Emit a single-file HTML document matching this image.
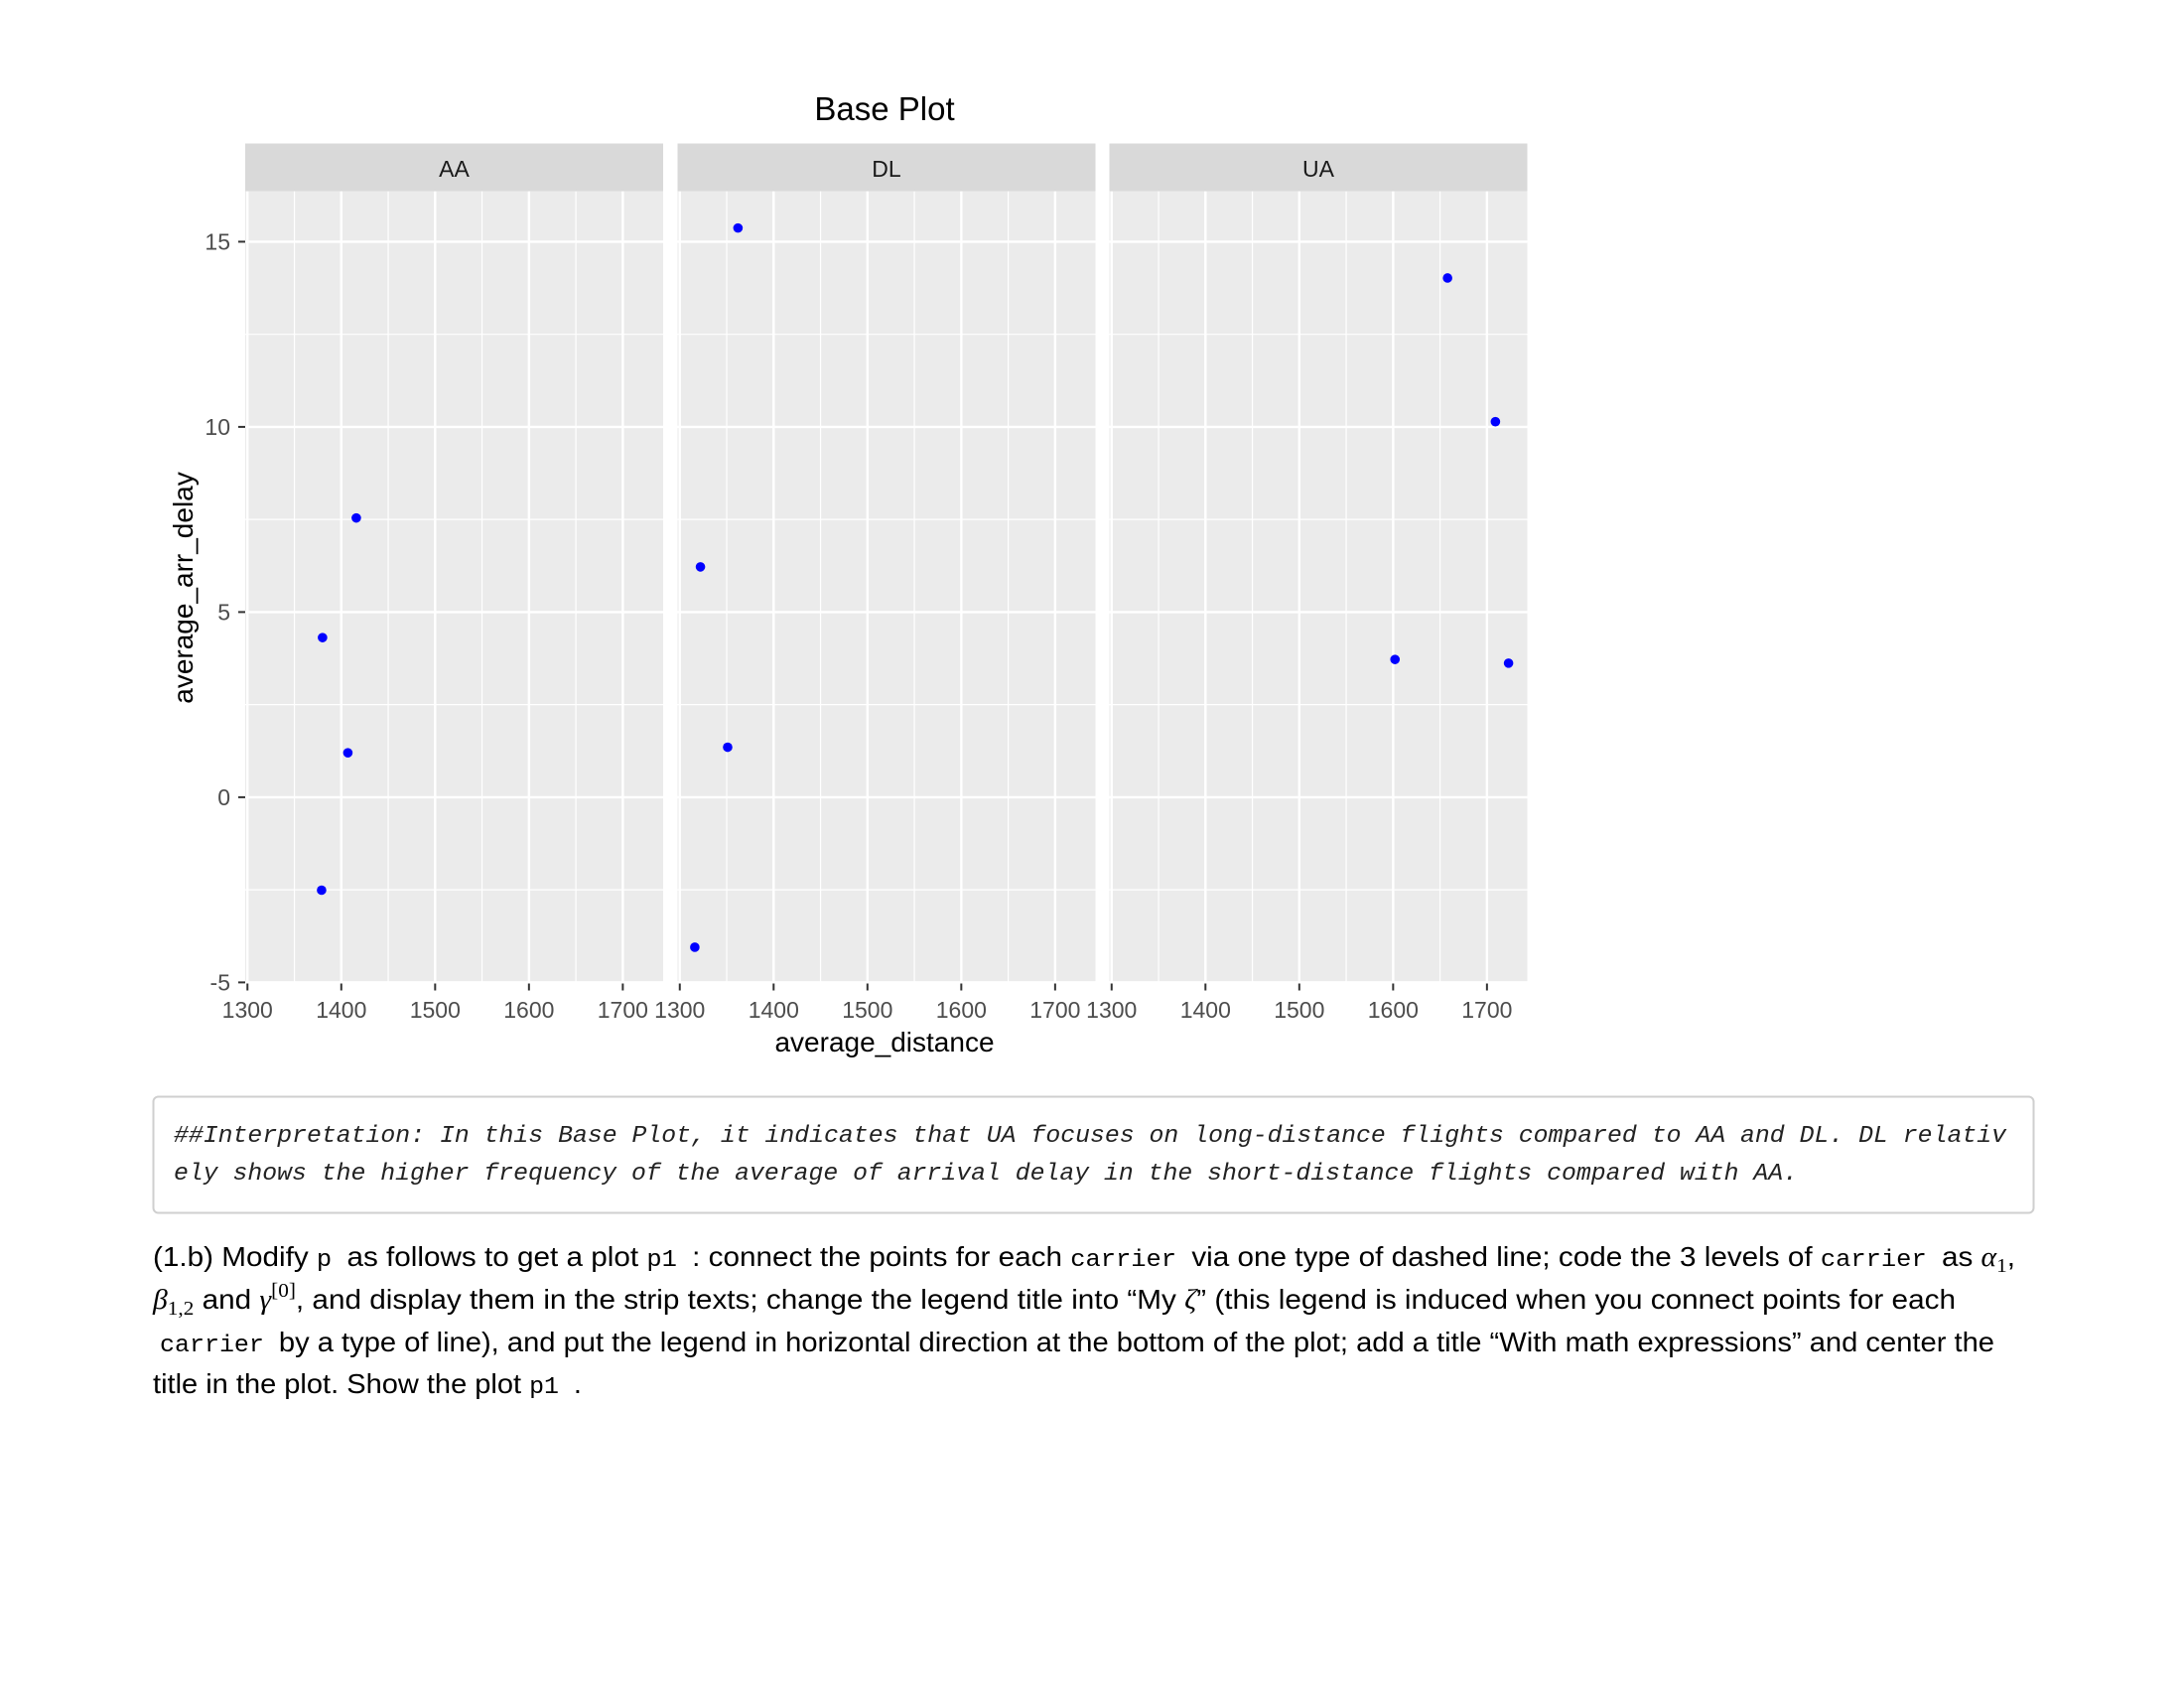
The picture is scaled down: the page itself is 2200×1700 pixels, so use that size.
<!DOCTYPE html>
<html><head><meta charset="utf-8"><style>
html,body{margin:0;padding:0;background:#fff;width:2200px;height:1700px;overflow:hidden}
svg{display:block}
</style></head><body>
<svg id="page" width="2200" height="1700" xmlns="http://www.w3.org/2000/svg">
<g id="chart"></g>
<rect x="154.5" y="1104.5" width="1894" height="117" rx="5" fill="#fff" stroke="#cfcfcf" stroke-width="2"/>
<g font-family="Liberation Mono, monospace" font-style="italic" font-size="24" fill="#222">
<text x="175" y="1150" textLength="1846" lengthAdjust="spacingAndGlyphs">##Interpretation: In this Base Plot, it indicates that UA focuses on long-distance flights compared to AA and DL. DL relativ</text>
<text x="175" y="1188" textLength="1636" lengthAdjust="spacingAndGlyphs">ely shows the higher frequency of the average of arrival delay in the short-distance flights compared with AA.</text>
</g>
<g font-family="Liberation Sans, sans-serif" font-size="28" fill="#000">
<text x="154" y="1275" textLength="1876" lengthAdjust="spacingAndGlyphs">(1.b) Modify <tspan font-family="Liberation Mono, monospace" font-size="24"> p </tspan> as follows to get a plot <tspan font-family="Liberation Mono, monospace" font-size="24"> p1 </tspan>: connect the points for each <tspan font-family="Liberation Mono, monospace" font-size="24"> carrier </tspan> via one type of dashed line; code the 3 levels of <tspan font-family="Liberation Mono, monospace" font-size="24"> carrier </tspan> as <tspan font-family="Liberation Serif, serif" font-style="italic">α</tspan><tspan font-family="Liberation Serif, serif" font-size="20" dy="6">1</tspan><tspan dy="-6">,</tspan></text>
<text x="154" y="1318" textLength="1816" lengthAdjust="spacingAndGlyphs"><tspan font-family="Liberation Serif, serif" font-style="italic">β</tspan><tspan font-family="Liberation Serif, serif" font-size="20" dy="6">1,2</tspan><tspan dy="-6"> and </tspan><tspan font-family="Liberation Serif, serif" font-style="italic">γ</tspan><tspan font-family="Liberation Serif, serif" font-size="20" dy="-12">[0]</tspan><tspan dy="12">, and display them in the strip texts; change the legend title into “My </tspan><tspan font-family="Liberation Serif, serif" font-style="italic">ζ</tspan>” (this legend is induced when you connect points for each</text>
<text x="161" y="1361" textLength="1848" lengthAdjust="spacingAndGlyphs"><tspan font-family="Liberation Mono, monospace" font-size="24">carrier </tspan> by a type of line), and put the legend in horizontal direction at the bottom of the plot; add a title “With math expressions” and center the</text>
<text x="154" y="1403" textLength="432" lengthAdjust="spacingAndGlyphs">title in the plot. Show the plot <tspan font-family="Liberation Mono, monospace" font-size="24"> p1 </tspan>.</text>
</g>
</svg>
<script>
const carriers = ["AA", "DL", "UA"];
const aaDistance = [1380, 1416, 1407, 1379];
const aaDelay = [4.31, 7.54, 1.2, -2.51];
const dlDistance = [1362, 1322, 1351, 1316];
const dlDelay = [15.37, 6.22, 1.35, -4.05];
const uaDistance = [1658, 1709, 1602, 1723];
const uaDelay = [14.02, 10.14, 3.72, 3.62];
const xTicks = [1300, 1400, 1500, 1600, 1700];
const yTicks = [-5, 0, 5, 10, 15];
const xDomain = [1297.6, 1743];
const yDomain = [-5.03, 16.36];

const NS = "http://www.w3.org/2000/svg";
const chart = document.getElementById("chart");
function mk(tag, attrs, parent) {
  const e = document.createElementNS(NS, tag);
  for (const k in attrs) e.setAttribute(k, attrs[k]);
  (parent || chart).appendChild(e);
  return e;
}
const panelLefts = [247, 682.5, 1117.5];
const panelW = 421;
const plotTop = 192.7, plotBot = 990.5;
const stripTop = 144.5;
function xScale(v, i) { return panelLefts[i] + (v - xDomain[0]) / (xDomain[1] - xDomain[0]) * panelW; }
function yScale(v) { return plotBot - (v - yDomain[0]) / (yDomain[1] - yDomain[0]) * (plotBot - plotTop); }
const xs = [aaDistance, dlDistance, uaDistance];
const ys = [aaDelay, dlDelay, uaDelay];

const title = mk("text", {x: 891, y: 121, "text-anchor": "middle", "font-family": "Liberation Sans, sans-serif", "font-size": 33, fill: "#000"});


title.textContent = "Base Plot";

carriers.forEach((c, i) => {
  const g = mk("g", {});
  
  
  const strip = mk("rect", {x: panelLefts[i], y: stripTop, width: panelW, height: plotTop - stripTop, fill: "#d9d9d9"}, g);
  
  
  const st = mk("text", {x: panelLefts[i] + panelW / 2, y: 178, "text-anchor": "middle", "font-family": "Liberation Sans, sans-serif", "font-size": 23, fill: "#1a1a1a"}, g);
  
  
  st.textContent = c;
  const bg = mk("rect", {x: panelLefts[i], y: plotTop, width: panelW, height: plotBot - plotTop, fill: "#ebebeb"}, g);
  
  
  for (let k = 0; k < yTicks.length; k++) {
    const mid = yTicks[k] + 2.5;
    if (mid < yDomain[1]) {
      const m = mk("line", {x1: panelLefts[i], x2: panelLefts[i] + panelW, y1: yScale(mid), y2: yScale(mid), stroke: "#fff", "stroke-width": 1.2}, g);
      
      
    }
    const l = mk("line", {x1: panelLefts[i], x2: panelLefts[i] + panelW, y1: yScale(yTicks[k]), y2: yScale(yTicks[k]), stroke: "#fff", "stroke-width": 2.4}, g);
    
    
  }
  for (let k = 0; k < xTicks.length; k++) {
    const mid = xTicks[k] + 50;
    if (mid < xDomain[1]) {
      const m = mk("line", {x1: xScale(mid, i), x2: xScale(mid, i), y1: plotTop, y2: plotBot, stroke: "#fff", "stroke-width": 1.2}, g);
      
      
    }
    const xv = xScale(xTicks[k], i);
    const l = mk("line", {x1: xv, x2: xv, y1: plotTop, y2: plotBot, stroke: "#fff", "stroke-width": 2.4}, g);
    
    
    const tk = mk("line", {x1: xv, x2: xv, y1: plotBot, y2: plotBot + 7, stroke: "#333", "stroke-width": 2}, g);
    
    
    const tl = mk("text", {x: xv, y: 1025, "text-anchor": "middle", "font-family": "Liberation Sans, sans-serif", "font-size": 23, fill: "#4d4d4d"}, g);
    
    
    tl.textContent = xTicks[k];
  }
  for (let j = 0; j < xs[i].length; j++) {
    const p = mk("circle", {cx: xScale(xs[i][j], i), cy: yScale(ys[i][j]), r: 4.8, fill: "#0000ff"}, g);
    
    
  }
});
yTicks.forEach(v => {
  const y = yScale(v);
  const tk = mk("line", {x1: 240, x2: 247, y1: y, y2: y, stroke: "#333", "stroke-width": 2});
  
  
  const tl = mk("text", {x: 232, y: y + 8, "text-anchor": "end", "font-family": "Liberation Sans, sans-serif", "font-size": 23, fill: "#4d4d4d"});
  
  
  tl.textContent = v;
});
const xt = mk("text", {x: 891, y: 1059, "text-anchor": "middle", "font-family": "Liberation Sans, sans-serif", "font-size": 28, fill: "#000"});


xt.textContent = "average_distance";
const yt = mk("text", {x: 0, y: 0, "text-anchor": "middle", "font-family": "Liberation Sans, sans-serif", "font-size": 28, fill: "#000", transform: "translate(194,592) rotate(-90)"});


yt.textContent = "average_arr_delay";
</script>
</body></html>
